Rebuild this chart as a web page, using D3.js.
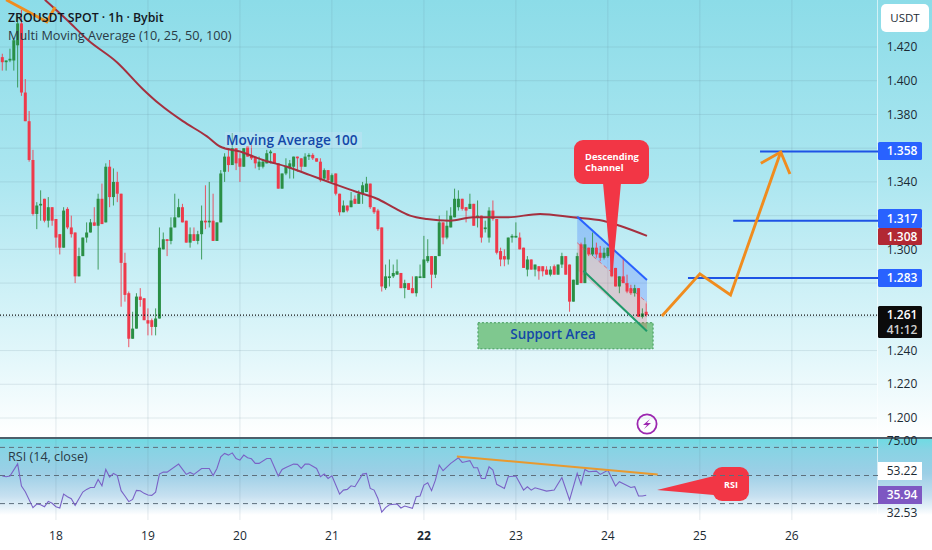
<!DOCTYPE html>
<html>
<head>
<meta charset="utf-8">
<script src="https://cdn.jsdelivr.net/npm/d3@7"></script>
<style>
html,body{margin:0;padding:0;background:#fff;}
svg{display:block;}
text{font-family:"Open Sans","Noto Sans",sans-serif;}
</style>
</head>
<body>
<svg id="chart" width="932" height="550"></svg>
<script>
// ---- data: hourly candles, bar 14 = day 18 00:00 ----
const opens=[1414,1411,1412,1412,1421,1434,1393,1376,1353,1321,1326,1330,1317,1325,1318,1309,1301,1324,1313,1310,1284,1296,1307,1310,1316,1314,1330,1316,1349,1331,1340,1333,1292,1274,1247,1253,1272,1271,1258,1258,1254,1259,1300,1306,1305,1313,1319,1325,1317,1304,1309,1305,1309,1317,1316,1317,1305,1316,1346,1355,1350,1360,1354,1349,1361,1356,1355,1349,1349,1351,1357,1357,1351,1336,1345,1348,1349,1355,1354,1349,1355,1356,1354,1352,1342,1347,1340,1345,1333,1322,1326,1325,1330,1327,1333,1334,1339,1325,1323,1313,1277,1283,1284,1285,1286,1277,1280,1277,1274,1283,1283,1293,1296,1285,1296,1316,1307,1313,1319,1325,1330,1325,1324,1327,1319,1320,1312,1307,1323,1318,1299,1296,1294,1307,1307,1307,1301,1288,1294,1288,1290,1290,1288,1285,1290,1285,1291,1296,1291,1269,1279,1303,1280,1301,1297,1301,1298,1295,1296,1301,1289,1278,1284,1280,1277,1274,1277,1260,1263];
const highs=[1416,1412,1419,1425,1439,1442,1401,1382,1359,1328,1335,1330,1331,1325,1318,1309,1325,1325,1320,1310,1301,1307,1316,1318,1325,1333,1339,1351,1353,1348,1346,1333,1298,1275,1263,1274,1277,1271,1265,1259,1265,1313,1310,1306,1319,1333,1330,1327,1317,1313,1313,1311,1326,1338,1340,1333,1316,1347,1357,1360,1369,1360,1357,1360,1361,1362,1355,1355,1353,1359,1359,1357,1351,1345,1354,1353,1355,1355,1354,1357,1357,1357,1354,1354,1348,1347,1345,1345,1333,1329,1326,1334,1332,1335,1340,1343,1339,1325,1324,1313,1291,1294,1291,1294,1286,1282,1280,1284,1284,1291,1308,1306,1296,1296,1320,1316,1323,1325,1336,1335,1330,1325,1333,1327,1329,1320,1317,1325,1329,1318,1301,1300,1307,1309,1316,1310,1301,1296,1294,1291,1290,1290,1290,1290,1291,1291,1298,1296,1291,1282,1298,1304,1307,1301,1310,1304,1302,1301,1301,1301,1289,1284,1295,1285,1279,1279,1277,1265,1268];
const lows=[1406,1406,1411,1406,1396,1391,1376,1352,1320,1312,1317,1316,1313,1314,1301,1297,1301,1312,1307,1280,1284,1296,1304,1310,1314,1288,1315,1316,1325,1326,1328,1266,1269,1242,1247,1253,1266,1258,1249,1249,1249,1259,1300,1296,1303,1313,1319,1316,1304,1301,1305,1303,1294,1312,1313,1305,1305,1316,1340,1346,1350,1347,1340,1349,1355,1353,1348,1347,1348,1351,1351,1351,1336,1336,1344,1342,1342,1346,1346,1349,1353,1353,1352,1340,1341,1340,1339,1332,1320,1322,1322,1325,1327,1327,1327,1334,1324,1321,1311,1275,1276,1278,1283,1285,1277,1271,1276,1274,1272,1283,1283,1292,1277,1283,1296,1303,1306,1313,1319,1323,1323,1316,1324,1314,1313,1304,1310,1304,1317,1297,1290,1290,1291,1304,1307,1300,1289,1284,1288,1284,1282,1284,1285,1284,1285,1285,1289,1285,1263,1269,1279,1280,1280,1296,1296,1295,1293,1294,1295,1284,1278,1274,1280,1274,1273,1272,1260,1259,1260];
const closes=[1411,1412,1413,1424,1434,1393,1376,1353,1321,1326,1327,1317,1325,1317,1307,1301,1323,1313,1309,1284,1296,1307,1310,1316,1314,1330,1315,1349,1331,1340,1333,1292,1273,1247,1253,1272,1270,1258,1256,1254,1259,1301,1306,1305,1313,1319,1325,1316,1304,1309,1305,1309,1317,1316,1317,1305,1316,1345,1355,1350,1360,1351,1349,1360,1355,1354,1351,1352,1352,1357,1358,1351,1336,1345,1349,1351,1355,1354,1349,1355,1356,1354,1352,1341,1347,1341,1344,1333,1322,1326,1323,1329,1327,1333,1338,1339,1325,1322,1312,1278,1284,1284,1286,1287,1277,1280,1276,1274,1284,1284,1294,1296,1285,1296,1316,1307,1314,1320,1330,1330,1324,1323,1327,1314,1320,1307,1313,1323,1318,1298,1294,1294,1307,1308,1308,1300,1289,1294,1288,1291,1287,1287,1285,1288,1285,1291,1296,1285,1269,1282,1296,1280,1303,1297,1301,1297,1295,1298,1301,1284,1278,1284,1280,1275,1274,1277,1260,1262,1261];

const maIndex=[11.1,16.9,22.4,29.9,36.7,41.1,47.1,53.4,56.8,62,68,74.3,80.3,86.3,92.5,97.8,101.9,106.4,110.8,116.8,122.8,131.7,140.3,148.9,156.7,161.1,168.2];
const maValues=[1.448,1.436,1.424,1.411,1.395,1.386,1.376,1.367,1.361,1.358,1.353,1.349,1.344,1.339,1.334,1.330,1.325,1.320,1.318,1.317,1.319,1.319,1.321,1.319,1.317,1.314,1.308];

const rsiIndex=[0,1,2,4,5,6,8,9,10,11,12,13,14,15,16,17,18,19,21,22,23,24,25,26,27,28,29,30,31,32,33,34,35,36,37,38,39,40,41,42,43,46,48,49,50,52,54,55,56,57,58,59,60,61,62,63,64,65,66,67,69,70,72,73,74,76,77,78,79,80,82,83,
84,85,86,88,89,90,91,92,94,95,96,97,98,99,100,101,103,104,105,107,108,109,110,111,112,113,114,115,117,119,120,122,123,124,125,126,127,128,129,131,132,134,136,137,138,139,142,144,146,148,150,151,152,153,155,156,158,160,161,164,165,166,167,168];
const rsiValues=[49.6,49.1,49.6,58.3,42.5,38.5,27.1,29.7,29.2,27.8,31.6,30.2,27.8,26.9,36.8,34.9,33.5,28.8,38.2,40.1,41.5,41.5,47.2,42.7,54.3,48.9,51.5,50,39.2,35.4,31.4,33,39.4,39.2,37.3,36.1,35.9,38.2,51,52.4,52.4,58.1,50.8,52.2,50.8,55,55,50,55,63.3,65.7,64.5,66.1,62.1,60.9,64.5,62.6,61.9,58.6,58.6,62.1,62.1,49.6,54.3,55.7,58.1,57.9,55,58.1,58.1,55,49.1,
51,47.9,49.8,36.8,39.6,40.1,42.7,42,51,51.5,40.8,39.6,33.7,24,27.1,29.2,29.7,26.9,28.3,26.6,34.9,35.4,43.2,44.8,39.2,46.7,57.4,53.4,58.6,62.6,59.3,60.5,55.5,55.5,47.9,47.9,56.2,53.8,43.7,40.8,49.1,49.6,39.6,42,39.6,41.3,38.9,39.6,48.6,32.6,51.5,43.7,54.3,52.7,53.1,50.8,53.8,42.5,45.6,41.5,42,35.4,35.4,35.94];

const priceTicks=[1.42,1.40,1.38,1.36,1.34,1.32,1.30,1.28,1.26,1.24,1.22,1.20];
const priceLabels=["1.420","1.400","1.380","1.340","1.300","1.240","1.220","1.200"];
const dayIndex=[14,38,62,86,110,134,158,182,206];
const dayLabels=["18","19","20","21","22","23","24","25","26"];
const rsiBands=[70,50,30];
const lastPrice=1.261;
const targets=[1.283,1.317,1.358];
const targetStart=[178.9,190.7,197.7];
const maLast=1.308;
const countdown="41:12";
const rsiAxisLabels=["75.00","53.22","32.53"];

// ---- annotation anchors in chart units ----
const pathIndex=[172.1,182,190,203.1];
const pathPrice=[1.2605,1.2855,1.2730,1.3577];
const headIndex=[197.9,203.1,205.5];
const headPrice=[1.3510,1.3577,1.3447];
const oldIndex=[1,11.6,13.8];
const oldPrice=[1.448,1.4349,1.4437];
const chTopIndex=[150,168.2], chTopPrice=[1.3193,1.2819];
const chMidPrice=[1.3039,1.2685];
const chBotPrice=[1.2878,1.2515];
const chBotIndex=[151.6,168.2];
const supportIndex=[124.1,169.8], supportPrice=[1.2565,1.2410];
const rsiTrendIndex=[118.6,171], rsiTrendValues=[63.5,50.7];

// ---- layout ----
const W=932,H=550,plotR=878,paneBottom=437,rsiTop=439,rsiBottom=515;
const x=d3.scaleLinear().domain([0,229]).range([2.3,880]);
const y=d3.scaleLinear().domain([1.42,1.20]).range([47,418]);
const yr=d3.scaleLinear().domain([70,30]).range([447.4,503.6]);
const svg=d3.select("#chart");
const defs=svg.append("defs");
function grad(id,stops){
  const g=defs.append("linearGradient").attr("id",id).attr("x1",0).attr("x2",0).attr("y1",0).attr("y2",1);
  stops.forEach(s=>g.append("stop").attr("offset",s[0]).attr("stop-color",s[1]));
}
grad("gPrice",[[0,"#8cdce8"],[0.4,"#abe6f0"],[0.8,"#e0f6fa"],[1,"#ffffff"]]);
grad("gRsi",[[0,"#6fdbe3"],[0.15,"#88d3e4"],[0.45,"#9ccfe6"],[0.75,"#c6e0f0"],[0.9,"#e6f2f9"],[1,"#ffffff"]]);
svg.append("rect").attr("width",W).attr("height",H).attr("fill","#fff");
svg.append("rect").attr("width",W).attr("height",paneBottom).attr("fill","url(#gPrice)");
svg.append("rect").attr("y",rsiTop).attr("width",W).attr("height",rsiBottom-rsiTop).attr("fill","url(#gRsi)");
svg.append("rect").attr("x",plotR-1).attr("y",0).attr("width",1).attr("height",H).attr("fill","#ffffff").attr("opacity",0.6);

// grid
const gridColor="#5f7f8c";
svg.append("g").selectAll("line").data(priceTicks).join("line")
  .attr("x1",0).attr("x2",plotR-1).attr("y1",d=>y(d)).attr("y2",d=>y(d))
  .attr("stroke",gridColor).attr("stroke-opacity",0.16);
svg.append("g").selectAll("line").data(dayIndex).join("line")
  .attr("x1",d=>x(d)).attr("x2",d=>x(d)).attr("y1",0).attr("y2",paneBottom)
  .attr("stroke",gridColor).attr("stroke-opacity",0.16);
svg.append("g").selectAll("line").data(dayIndex).join("line")
  .attr("x1",d=>x(d)).attr("x2",d=>x(d)).attr("y1",rsiTop).attr("y2",520)
  .attr("stroke",gridColor).attr("stroke-opacity",0.16);

// support area
svg.append("rect").attr("x",x(supportIndex[0])).attr("y",y(supportPrice[0]))
  .attr("width",x(supportIndex[1])-x(supportIndex[0])).attr("height",y(supportPrice[1])-y(supportPrice[0]))
  .attr("fill","#7fc88f").attr("stroke","#3f9a5a").attr("stroke-dasharray","2 2");

// channel fill
const area=d3.line();
const cx0=x(chTopIndex[0]),cx1=x(chTopIndex[1]);
svg.append("path").attr("d",area([[cx0,y(chTopPrice[0])],[cx1,y(chTopPrice[1])],[cx1,y(chMidPrice[1])],[cx0,y(chMidPrice[0])]])+"Z")
  .attr("fill","#2962ff").attr("opacity",0.26);
svg.append("path").attr("d",area([[cx0,y(chMidPrice[0])],[cx1,y(chMidPrice[1])],[cx1,y(chBotPrice[1])],[cx0,y(chBotPrice[0])]])+"Z")
  .attr("fill","#f23645").attr("opacity",0.2);

// candles
const up="#2a8f45",down="#ee3a4b";
const isUp=i=>closes[i]>=opens[i];
const candles=svg.append("g");
opens.forEach((o,i)=>{
  const c=isUp(i)?up:down;
  const p=v=>y(v/1000);
  candles.append("line").attr("x1",x(i)).attr("x2",x(i)).attr("y1",p(highs[i])).attr("y2",p(lows[i]))
    .attr("stroke",c).attr("stroke-width",1).attr("stroke-opacity",0.85);
  const t=p(Math.max(o,closes[i])),b=p(Math.min(o,closes[i]));
  candles.append("rect").attr("x",x(i)-1.5).attr("width",3).attr("y",t).attr("height",Math.max(1.4,b-t)).attr("fill",c);
});

// moving average
const lineGen=d3.line().curve(d3.curveMonotoneX).x(d=>x(d[0])).y(d=>y(d[1]));
svg.append("path").attr("d",lineGen(d3.zip(maIndex,maValues)))
  .attr("fill","none").attr("stroke","#a5303f").attr("stroke-width",2);

// last price dotted
svg.append("line").attr("x1",0).attr("x2",plotR).attr("y1",y(lastPrice)).attr("y2",y(lastPrice))
  .attr("stroke","#111").attr("stroke-width",1.2).attr("stroke-dasharray","1 2");

// channel lines
svg.append("line").attr("x1",x(chTopIndex[0])).attr("x2",x(chTopIndex[1])).attr("y1",y(chTopPrice[0])).attr("y2",y(chTopPrice[1]))
  .attr("stroke","#2962ff").attr("stroke-width",2);
svg.append("line").attr("x1",x(chTopIndex[0])).attr("x2",x(chTopIndex[1])).attr("y1",y(chMidPrice[0])).attr("y2",y(chMidPrice[1]))
  .attr("stroke","#f23645").attr("stroke-width",1).attr("stroke-dasharray","4 3").attr("opacity",0.6);
svg.append("line").attr("x1",x(chBotIndex[0])).attr("x2",x(chBotIndex[1])).attr("y1",y(chBotPrice[0]-0.0005)).attr("y2",y(chBotPrice[1]))
  .attr("stroke","#1f9a6a").attr("stroke-width",2);

// target lines
svg.append("g").selectAll("line").data(targets).join("line")
  .attr("x1",(d,i)=>x(targetStart[i])).attr("x2",plotR).attr("y1",d=>y(d)).attr("y2",d=>y(d))
  .attr("stroke","#1e53e5").attr("stroke-width",2);

// orange paths
const straight=d3.line().x(d=>x(d[0])).y(d=>y(d[1]));
const orange="#f08c1e";
[[pathIndex,pathPrice],[headIndex,headPrice],[oldIndex,oldPrice]].forEach(p=>{
  svg.append("path").attr("d",straight(d3.zip(p[0],p[1]))).attr("fill","none")
    .attr("stroke",orange).attr("stroke-width",2.9).attr("stroke-linejoin","miter");
});

// callouts
const red="#f23645";
function callout(x0,y0,w,h,r,pointer){
  svg.append("rect").attr("x",x0).attr("y",y0).attr("width",w).attr("height",h).attr("rx",r).attr("fill",red);
  svg.append("path").attr("d",d3.line()(pointer)+"Z").attr("fill",red);
}
callout(574,140,75,44,9,[[603,183],[621,183],[612,278]]);
callout(713,467,36,34,9,[[714,476],[714,495],[657,490]]);
const annot=(t,xp,yp,o)=>{
  const s=svg.append("text").attr("x",xp).attr("y",yp).text(t);
  Object.entries(o).forEach(([k,v])=>s.attr(k,v));
  return s;
};
annot("Descending",585,160,{"font-size":9.4,"font-weight":700,"fill":"#fff"});
annot("Channel",585,171,{"font-size":9.4,"font-weight":700,"fill":"#fff"});
annot("RSI",731,488,{"text-anchor":"middle","font-size":9,"font-weight":700,"fill":"#fff"});

// labels on chart
svg.append("rect").attr("x",225).attr("y",132).attr("width",137).attr("height",16).attr("fill","#cfe3f6").attr("opacity",0.35);
annot("Moving Average 100",226,145,{"font-size":13.6,"font-weight":600,"fill":"#1347a8"});
annot("Support Area",553,338.5,{"text-anchor":"middle","font-size":13.4,"font-weight":600,"fill":"#1347a8"});

// legend
annot("ZROUSDT SPOT · 1h · Bybit",8,22,{"font-size":12.3,"font-weight":600,"fill":"#131722"});
annot("Multi Moving Average (10, 25, 50, 100)",8,40,{"font-size":12.7,"fill":"#2a3a45"});
annot("RSI (14, close)",8,461,{"font-size":12.6,"fill":"#2a3a45"});

// lightning
const lx=647,ly=424;
svg.append("circle").attr("cx",lx).attr("cy",ly).attr("r",9.6).attr("fill","none").attr("stroke","#9c27b0").attr("stroke-width",1.8);
svg.append("path").attr("d",`M${lx+3},${ly-5}L${lx-4},${ly+1}L${lx},${ly+1}L${lx-3},${ly+5}L${lx+4},${ly-1}L${lx},${ly-1}Z`).attr("fill","#9c27b0");

// right axis labels
const axisText=(t,yp,fill,weight)=>annot(t,902,yp+4.2,{"text-anchor":"middle","font-size":12,"fill":fill||"#1b2a33","font-weight":weight||400});
priceLabels.forEach(d=>axisText(d,y(+d)));
svg.append("rect").attr("x",881).attr("y",4).attr("width",48).attr("height",28).attr("rx",5).attr("fill","#fff");
annot("USDT",905,22,{"text-anchor":"middle","font-size":11.5,"fill":"#1b2a33"});
function tag(t,y0,h,col){
  svg.append("rect").attr("x",878).attr("y",y0).attr("width",44).attr("height",h).attr("fill",col).attr("rx",1.5);
  axisText(t,y0+h/2,"#fff",600);
}
targets.forEach((t,i)=>tag(t.toFixed(3),[269,209,142][i],[18,19,18][i],"#2962ff"));
tag(maLast.toFixed(3),228,17,"#b22833");
svg.append("rect").attr("x",878).attr("y",306).attr("width",44).attr("height",32).attr("fill","#0b0b0b").attr("rx",1.5);
axisText(lastPrice.toFixed(3),315,"#fff",600);
axisText(countdown,330,"#d0d0d0",600);

// divider
svg.append("rect").attr("y",paneBottom).attr("width",W).attr("height",2).attr("fill","#4d5f6b");

// RSI
svg.append("g").selectAll("line").data(rsiBands).join("line")
  .attr("x1",0).attr("x2",plotR).attr("y1",d=>yr(d)).attr("y2",d=>yr(d))
  .attr("stroke","#5d6f7c").attr("stroke-dasharray","5 4").attr("stroke-width",1);
const rsiLine=d3.line().x(d=>x(d[0])).y(d=>yr(d[1]));
svg.append("path").attr("d",rsiLine(d3.zip(rsiIndex,rsiValues))).attr("fill","none")
  .attr("stroke","#7a62c6").attr("stroke-width",1.1);
svg.append("path").attr("d",rsiLine(d3.zip(rsiTrendIndex,rsiTrendValues))).attr("fill","none")
  .attr("stroke","#e8992f").attr("stroke-width",2);
axisText(rsiAxisLabels[0],441);
svg.append("rect").attr("x",878).attr("y",462).attr("width",44).attr("height",18).attr("fill","#fff");
axisText(rsiAxisLabels[1],471);
svg.append("rect").attr("x",878).attr("y",486).attr("width",44).attr("height",18).attr("fill","#7e57c2");
axisText(rsiValues[rsiValues.length-1].toFixed(2),495,"#fff",600);
axisText(rsiAxisLabels[2],513);

// time axis
svg.append("g").selectAll("text").data(dayIndex).join("text")
  .attr("x",d=>x(d)).attr("y",539.5).attr("text-anchor","middle").attr("font-size",12)
  .attr("fill","#1b2a33").attr("font-weight",(d,i)=>dayLabels[i]==="22"?700:400)
  .text((d,i)=>dayLabels[i]);
</script>
</body>
</html>
